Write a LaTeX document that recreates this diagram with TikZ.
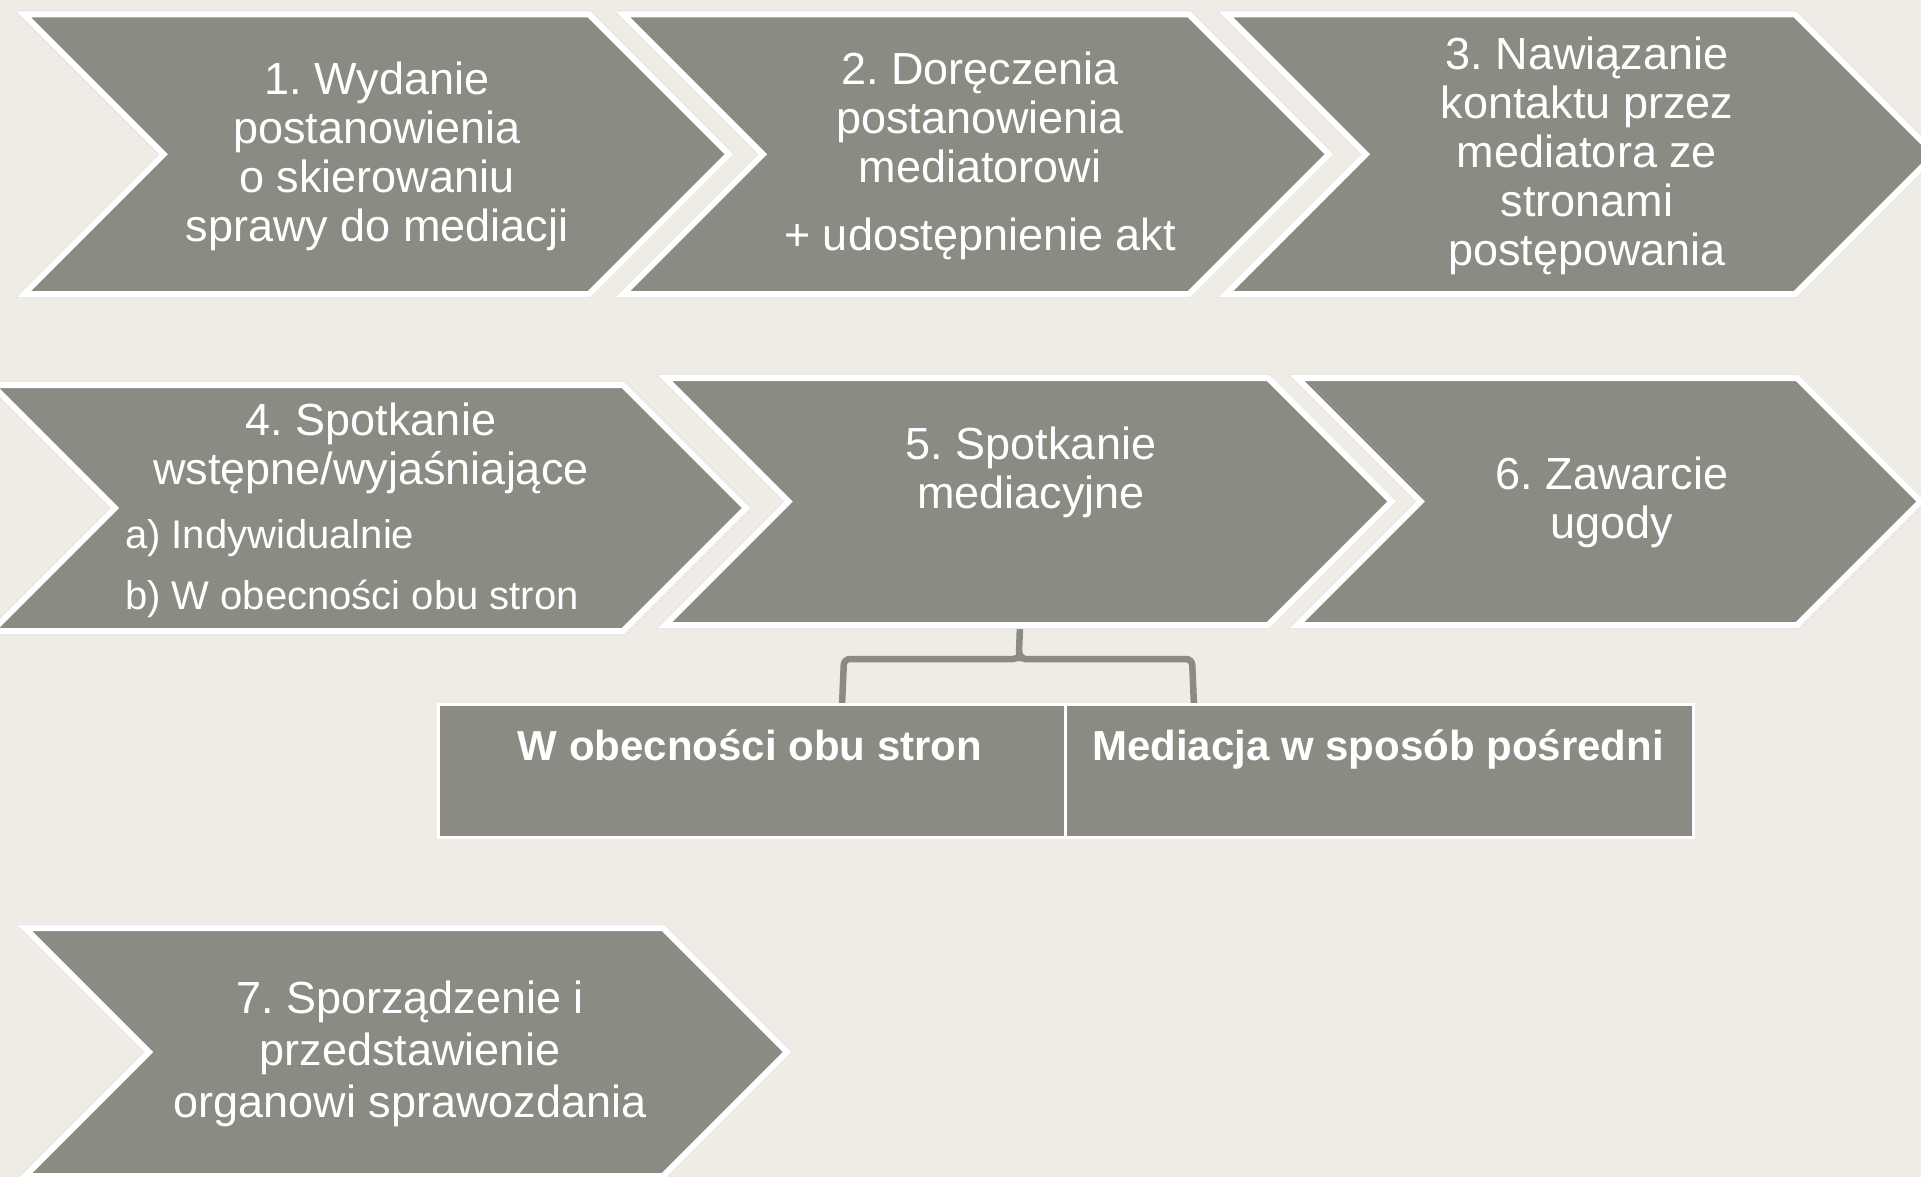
\documentclass[tikz,border=0pt]{standalone}
\usepackage{fontspec}
\setmainfont{Liberation Sans}
\frenchspacing
\definecolor{bg}{HTML}{EEECE5}
\definecolor{chev}{HTML}{8B8B83}
\newcommand{\drawchev}[4]{%
  \pgfmathsetmacro\cmid{(#3+#4)/2}%
  \pgfmathsetmacro\cdep{(#4-#3)/2}%
  \path[shadowline] (#1,#3) -- (#2,#3) -- (#2+\cdep,\cmid) -- (#2,#4) -- (#1,#4) -- (#1+\cdep,\cmid) -- cycle;
  \path[chevshape] (#1,#3) -- (#2,#3) -- (#2+\cdep,\cmid) -- (#2,#4) -- (#1,#4) -- (#1+\cdep,\cmid) -- cycle;
}
\begin{document}
\begin{tikzpicture}[x=1pt,y=-1pt,
  chevshape/.style={fill=chev, draw=white, line width=6pt},
  shadowline/.style={draw=black!10, line width=8pt},
  lbl/.style={text=white, font=\fontsize{45}{49}\selectfont, align=center, inner sep=0pt},
  sublbl/.style={text=white, font=\fontsize{40}{44}\selectfont, inner sep=0pt, anchor=base west},
  boxlbl/.style={text=white, font=\bfseries\fontsize{42}{46}\selectfont, inner sep=0pt, anchor=base},
  boxst/.style={fill=chev, draw=white, line width=3pt, inner sep=0pt, minimum height=133pt, anchor=north west},
  brace/.style={draw=chev, line width=6.5pt, rounded corners=6pt}]
\useasboundingbox (0,0) rectangle (1921,1177);
\fill[bg] (0,0) rectangle (1921,1177);

% row 1
\drawchev{24}{589}{14.5}{294}
\drawchev{623}{1189}{14.5}{294}
\drawchev{1226}{1795}{14.5}{294}
% row 2
\drawchev{-8}{623}{385}{631}
\coordinate (stem) at (1020,626);
\coordinate (fork) at (1019,652);
\coordinate (bl) at (842,706);
\coordinate (br) at (1194,706);
\draw[brace] (stem) -- (fork) to[out=-90,in=0] (1007,659) -- (844,659) -- (bl);
\draw[brace] (fork) to[out=-90,in=180] (1031,659) -- (1192,659) -- (br);
\drawchev{665}{1268}{378}{625}
\drawchev{1297}{1797}{378}{625}
% row 3
\drawchev{25}{663}{928}{1176}

% boxes
\node[boxst, minimum width=627pt] (b1) at (437,703) {};
\node[boxst, minimum width=628pt] (b2) at (1064,703) {};
\node[boxlbl] (b1t) at (750,760) {W obecności obu stron};
\node[boxlbl] (b2t) at (1378,760) {Mediacja w sposób pośredni};

% labels
\node[lbl] (t1) at (377,156) {1. Wydanie\\postanowienia\\o skierowaniu\\sprawy do mediacji};
\node[lbl] (t2) at (980,156) {2. Doręczenia\\postanowienia\\mediatorowi\\[19pt]+ udostępnienie akt};
\node[lbl] (t3) at (1587,156) {3. Nawiązanie\\kontaktu przez\\mediatora ze\\stronami\\postępowania};
\node[lbl] (t4) at (371,448) {4. Spotkanie\\wstępne/wyjaśniające};
\node[sublbl] (t4a) at (125,548) {a) Indywidualnie};
\node[sublbl] (t4b) at (125,609) {b) W obecności obu stron};
\node[lbl] (t5) at (1031,472) {5. Spotkanie\\mediacyjne};
\node[lbl] (t6) at (1612,502) {6. Zawarcie\\ugody};
\node[lbl, font=\fontsize{45}{52}\selectfont] (t7) at (410,1054) {7. Sporządzenie i\\przedstawienie\\organowi sprawozdania};
\end{tikzpicture}
\end{document}
